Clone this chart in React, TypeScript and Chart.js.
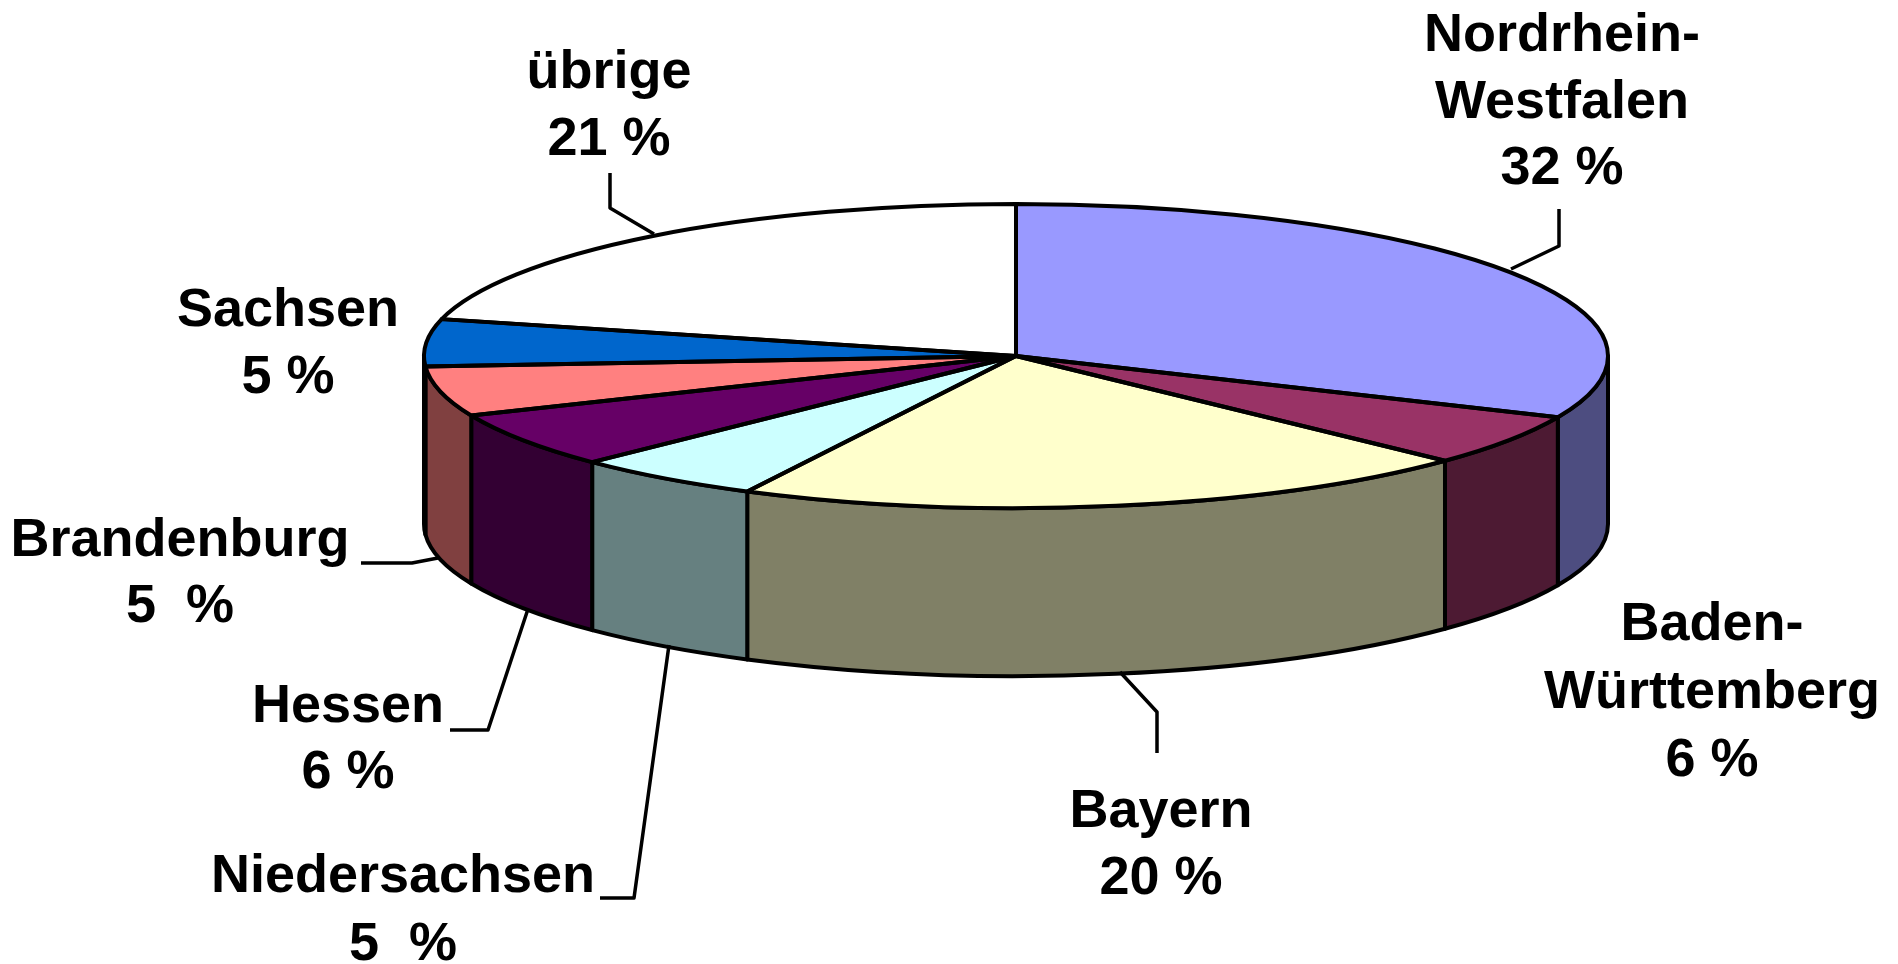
import React, { useEffect, useRef } from "react";
import { Chart, registerables } from "chart.js";

Chart.register(...registerables);

const categories = ["Nordrhein-Westfalen", "Baden-Württemberg", "Bayern", "Niedersachsen", "Hessen", "Brandenburg", "Sachsen", "übrige"];
// unrounded shares; the printed labels below are the rounded figures
const shares = [31.6, 5.5, 20.4, 5.2, 5.9, 5.3, 5.0, 21.1];
const topColors = ["#9999FF", "#993366", "#FFFFCC", "#CCFFFF", "#660066", "#FF8080", "#0066CC", "#FFFFFF"];
const wallColors = ["#4D4D80", "#4D1A33", "#808066", "#668080", "#330033", "#804040", "#003366", "#808080"];

const labelLines = [
  ["Nordrhein-", "Westfalen", "32 %"],
  ["Baden-", "Württemberg", "6 %"],
  ["Bayern", "20 %"],
  ["Niedersachsen", "5  %"],
  ["Hessen", "6 %"],
  ["Brandenburg", "5  %"],
  ["Sachsen", "5 %"],
  ["übrige", "21 %"],
];
// label position: centre x and baselines per line, in page pixels
const labelX = [1562, 1712, 1161, 403, 348, 180, 288, 609];
const labelBase = [
  [51, 118, 184],
  [640, 708, 776],
  [827, 894],
  [892, 960],
  [722, 788],
  [556, 622],
  [326, 393],
  [88, 155],
];
const leaders: number[][][] = [
  [[1559, 209], [1559, 246], [1511, 269]],
  [],
  [[1157, 753], [1157, 712], [1120, 672]],
  [[600, 898], [634, 898], [669, 645]],
  [[450, 730], [488, 730], [528, 609]],
  [[361, 563], [412, 563], [438, 558]],
  [],
  [[610, 173], [610, 208], [654, 234]],
];

const CX = 1016;
const CY = 356;
const RX = 592;
const RY = 152;
const DEPTH = 168;
const FONT = "bold 54px 'Liberation Sans', Arial, sans-serif";
const LINE = 4;

const pie3d = {
  id: "pie3d",
  beforeDatasetsDraw(chart: any) {
    const ctx = chart.ctx;
    const arcs = chart.getDatasetMeta(0).data;
    ctx.save();
    ctx.lineWidth = LINE;
    ctx.strokeStyle = "#000";
    ctx.lineJoin = "round";
    arcs.forEach((el: any, i: number) => {
      const s = Math.max(el.startAngle, 0);
      const e = Math.min(el.endAngle, Math.PI);
      if (s >= e) return;
      ctx.beginPath();
      ctx.ellipse(CX, CY, RX, RY, 0, s, e);
      ctx.ellipse(CX, CY + DEPTH, RX, RY, 0, e, s, true);
      ctx.closePath();
      ctx.fillStyle = wallColors[i];
      ctx.fill();
      ctx.stroke();
    });
    ctx.restore();
    const a = arcs[0];
    ctx.save();
    ctx.translate(CX, CY);
    ctx.scale(RX / a.outerRadius, RY / a.outerRadius);
    ctx.translate(-a.x, -a.y);
  },
  afterDatasetsDraw(chart: any) {
    const ctx = chart.ctx;
    ctx.restore();
    const arcs = chart.getDatasetMeta(0).data;
    ctx.save();
    ctx.lineWidth = LINE;
    ctx.strokeStyle = "#000";
    ctx.lineJoin = "round";
    arcs.forEach((el: any) => {
      ctx.beginPath();
      ctx.moveTo(CX, CY);
      ctx.ellipse(CX, CY, RX, RY, 0, el.startAngle, el.endAngle);
      ctx.closePath();
      ctx.stroke();
    });
    ctx.lineWidth = 3.5;
    leaders.forEach((pts) => {
      if (!pts.length) return;
      ctx.beginPath();
      pts.forEach(([x, y], k) => (k ? ctx.lineTo(x, y) : ctx.moveTo(x, y)));
      ctx.stroke();
    });
    ctx.fillStyle = "#000";
    ctx.font = FONT;
    ctx.textAlign = "center";
    ctx.textBaseline = "alphabetic";
    labelLines.forEach((lines, i) => {
      lines.forEach((t, k) => ctx.fillText(t, labelX[i], labelBase[i][k]));
    });
    ctx.restore();
  },
};

export default function App() {
  const ref = useRef<HTMLCanvasElement>(null);
  useEffect(() => {
    const chart = new Chart(ref.current!, {
      type: "pie",
      data: {
        labels: categories,
        datasets: [{ data: shares, backgroundColor: topColors, borderWidth: 0, clip: false } as any],
      },
      options: {
        animation: false,
        responsive: false,
        rotation: 0,
        plugins: { legend: { display: false }, tooltip: { enabled: false } },
      },
      plugins: [pie3d],
    });
    return () => chart.destroy();
  }, []);
  return (
    <canvas
      ref={ref}
      width={1898}
      height={964}
      style={{ position: "fixed", left: 0, top: 0, width: 1898, height: 964, background: "#fff" }}
    />
  );
}
